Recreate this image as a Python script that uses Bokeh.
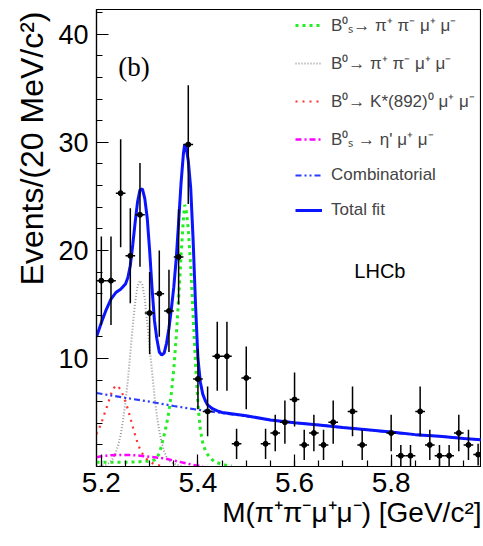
from bokeh.plotting import figure
from bokeh.models import Range1d, FixedTicker, Legend, LegendItem, Label, Title, ColumnDataSource
from bokeh.embed import file_html
from bokeh.resources import INLINE

# ---------------- data ----------------
bin_centers = [5.20, 5.22, 5.24, 5.26, 5.28, 5.30, 5.32, 5.34, 5.36, 5.38,
               5.40, 5.42, 5.44, 5.46, 5.48, 5.50, 5.52, 5.54, 5.56, 5.58,
               5.60, 5.62, 5.64, 5.66, 5.68, 5.70, 5.72, 5.74, 5.76, 5.78,
               5.80, 5.82, 5.84, 5.86, 5.88, 5.90, 5.92, 5.94, 5.96, 5.98]
counts = [17.2, 17.2, 25.3, 19.5, 23.3, 14.2, 16.0, 14.4, 19.4, 29.8,
          8.1, 5.1, 10.2, 10.2, 2.1, 8.2, 0, 2.1, 3.1, 4.1,
          6.2, 2.0, 3.1, 2.0, 4.1, 0, 5.1, 2.0, 0, 0,
          3.1, 1.0, 1.0, 5.1, 2.0, 1.0, 1.0, 3.1, 2.0, 1.1]
errors = [4.1, 4.1, 5.0, 4.4, 4.8, 3.8, 4.0, 3.8, 4.4, 5.5,
          2.8, 2.3, 3.2, 3.2, 1.4, 2.9, 0, 1.4, 1.7, 2.0,
          2.5, 1.4, 1.7, 1.4, 2.0, 0, 2.3, 1.4, 0, 0,
          1.7, 1.0, 1.0, 2.3, 1.4, 1.0, 1.0, 1.7, 1.4, 1.0]
bin_half_width = 0.01

green_x = [5.19, 5.20, 5.22, 5.24, 5.26, 5.28, 5.30, 5.31, 5.315, 5.32, 5.325, 5.33, 5.335, 5.34,
           5.345, 5.35, 5.355, 5.36, 5.365, 5.37, 5.3725, 5.375, 5.38, 5.385, 5.39, 5.395, 5.40,
           5.405, 5.41, 5.415, 5.42, 5.43, 5.44, 5.45, 5.46, 5.47]
green_y = [0.4, 0.4, 0.4, 0.4, 0.4, 0.45, 0.5, 0.6, 0.85, 1.2, 2.0, 2.9, 3.9, 5.1,
           6.8, 9.0, 12.0, 15.5, 19.5, 23.0, 24.2, 24.0, 22.0, 18.5, 14.0, 9.5, 5.8,
           3.4, 2.2, 1.5, 1.1, 0.6, 0.35, 0.2, 0.1, 0.05]

grey_x = [5.19, 5.20, 5.21, 5.215, 5.22, 5.225, 5.23, 5.235, 5.24, 5.245, 5.25, 5.255, 5.26,
          5.265, 5.27, 5.275, 5.28, 5.285, 5.29, 5.295, 5.30, 5.305, 5.31, 5.315, 5.32, 5.325,
          5.33, 5.335, 5.34, 5.35, 5.36, 5.37]
grey_y = [0.02, 0.05, 0.15, 0.3, 0.5, 0.8, 1.3, 2.0, 2.9, 4.3, 6.0, 8.0, 10.5,
          13.0, 15.2, 16.7, 17.2, 16.8, 15.5, 13.3, 11.0, 8.8, 6.5, 4.7, 3.3, 2.2,
          1.4, 0.9, 0.55, 0.25, 0.1, 0.03]

red_x = [5.19, 5.195, 5.20, 5.205, 5.21, 5.215, 5.22, 5.225, 5.23, 5.235, 5.24, 5.245, 5.25,
         5.255, 5.26, 5.265, 5.27, 5.275, 5.28, 5.285, 5.29, 5.30, 5.31, 5.32, 5.33]
red_y = [3.0, 3.5, 4.0, 4.7, 5.3, 6.0, 6.7, 7.2, 7.5, 7.4, 7.1, 6.6, 6.0,
         5.3, 4.5, 3.7, 2.9, 2.2, 1.6, 1.2, 0.85, 0.45, 0.2, 0.1, 0.04]

mag_x = [5.19, 5.20, 5.21, 5.22, 5.24, 5.26, 5.28, 5.30, 5.32, 5.33, 5.34, 5.35, 5.36, 5.37,
         5.38, 5.39, 5.40, 5.41]
mag_y = [0.85, 0.95, 1.0, 1.05, 1.07, 1.07, 1.0, 0.9, 0.8, 0.75, 0.65, 0.55, 0.45, 0.35,
         0.25, 0.15, 0.08, 0.03]

comb_x = [5.19, 5.25, 5.30, 5.35, 5.40, 5.45, 5.50, 5.55, 5.60, 5.65, 5.70, 5.75, 5.80,
          5.85, 5.90, 5.95, 5.99]
comb_y = [6.8, 6.35, 6.0, 5.6, 5.25, 4.95, 4.65, 4.3, 4.05, 3.85, 3.6, 3.4, 3.15,
          2.95, 2.8, 2.6, 2.45]

total_x = [5.19, 5.20, 5.21, 5.22, 5.23, 5.24, 5.25, 5.255, 5.26, 5.265, 5.27, 5.275, 5.28,
           5.285, 5.29, 5.295, 5.30, 5.305, 5.31, 5.315, 5.32, 5.325, 5.33, 5.335, 5.34,
           5.345, 5.35, 5.355, 5.36, 5.365, 5.37, 5.3725, 5.375, 5.38, 5.385, 5.39, 5.395,
           5.40, 5.405, 5.41, 5.415, 5.42, 5.43, 5.44, 5.45, 5.50, 5.55, 5.60, 5.65, 5.70,
           5.75, 5.80, 5.85, 5.90, 5.95, 5.99]
total_y = [12.0, 13.3, 14.5, 15.5, 16.1, 16.4, 16.9, 17.5, 18.6, 20.5, 22.6, 24.5, 25.6,
           25.7, 24.8, 23.0, 20.0, 16.5, 13.5, 11.8, 10.6, 10.3, 10.5, 11.4, 12.8,
           14.6, 16.6, 19.2, 22.6, 26.2, 29.0, 29.8, 29.7, 28.3, 25.8, 21.0, 15.0,
           10.0, 7.8, 6.7, 6.1, 5.7, 5.35, 5.15, 5.0, 4.7, 4.3, 4.05, 3.85, 3.6,
           3.4, 3.2, 2.95, 2.8, 2.6, 2.45]

legend_labels = ["B\u2070\u209b\u2192 \u03c0\u207a \u03c0\u207b \u03bc\u207a \u03bc\u207b",
                 "B\u2070\u2192 \u03c0\u207a \u03c0\u207b \u03bc\u207a \u03bc\u207b",
                 "B\u2070\u2192 K*(892)\u2070 \u03bc\u207a \u03bc\u207b",
                 "B\u2070\u209b \u2192 \u03b7' \u03bc\u207a \u03bc\u207b",
                 "Combinatorial",
                 "Total fit"]
x_title = "M(\u03c0\u207a\u03c0\u207b\u03bc\u207a\u03bc\u207b) [GeV/c\u00b2]"
y_title = "Events/(20 MeV/c\u00b2)"

x_ticks = [5.2, 5.4, 5.6, 5.8]
x_minor = [5.20, 5.25, 5.30, 5.35, 5.40, 5.45, 5.50, 5.55, 5.60, 5.65, 5.70, 5.75, 5.80, 5.85, 5.90, 5.95]
y_ticks = [10, 20, 30, 40]
y_minor = [0, 2, 4, 6, 8, 10, 12, 14, 16, 18, 20, 22, 24, 26, 28, 30, 32, 34, 36, 38, 40, 42]

FONT = "Liberation Sans"
X0, X1, Y0, Y1 = 5.19, 5.987, 0, 42.3

p = figure(width=481, height=544, x_range=Range1d(X0, X1), y_range=Range1d(Y0, Y1),
           output_backend="svg", toolbar_location=None,
           min_border_left=96, min_border_right=0, min_border_top=9, min_border_bottom=78)
p.grid.visible = False
p.outline_line_color = "black"
p.outline_line_width = 1.2
p.background_fill_color = "white"
p.border_fill_color = "white"

for ax in (p.xaxis[0], p.yaxis[0]):
    ax.major_tick_in = 12
    ax.major_tick_out = 0
    ax.minor_tick_in = 6
    ax.minor_tick_out = 0
    ax.axis_line_color = "black"
    ax.axis_line_width = 1.2
    ax.major_tick_line_width = 1.2
    ax.minor_tick_line_width = 1.2
    ax.major_label_text_font = FONT
    ax.major_label_text_color = "black"

p.xaxis.ticker = FixedTicker(ticks=x_ticks, minor_ticks=x_minor)
p.yaxis.ticker = FixedTicker(ticks=y_ticks, minor_ticks=y_minor)
p.xaxis.major_label_text_font_size = "28px"
p.yaxis.major_label_text_font_size = "27px"
p.xaxis.major_label_standoff = 6
p.yaxis.major_label_standoff = 8

r_green = p.line(green_x, green_y, line_color="#22ee22", line_width=3, line_dash="3 4")
r_grey = p.line(grey_x, grey_y, line_color="#9a9a9a", line_width=2, line_dash="1 2")
r_red = p.line(red_x, red_y, line_color="#ff3030", line_width=2.2, line_dash="2 5")
r_mag = p.line(mag_x, mag_y, line_color="#ff00ff", line_width=2.5, line_dash="6 3 2 3")
r_comb = p.line(comb_x, comb_y, line_color="#2a3cff", line_width=2.2, line_dash="6 3 2 3 2 3")
r_total = p.line(total_x, total_y, line_color="#0a14ff", line_width=3)

xs, ys, lo, hi, xl, xr = [], [], [], [], [], []
for xc, n, e in zip(bin_centers, counts, errors):
    if n <= 0:
        continue
    xs.append(xc); ys.append(n)
    lo.append(max(n - e, 0)); hi.append(n + e)
    xl.append(xc - bin_half_width); xr.append(xc + bin_half_width)
src = ColumnDataSource(dict(x=xs, y=ys, lo=lo, hi=hi, xl=xl, xr=xr))
p.segment(x0="x", y0="lo", x1="x", y1="hi", source=src, line_color="black", line_width=1.5)
p.segment(x0="xl", y0="y", x1="xr", y1="y", source=src, line_color="black", line_width=1.5)
p.scatter("x", "y", source=src, size=5, marker="circle", fill_color="black", line_color="black")

legend = Legend(items=[LegendItem(label=lab, renderers=[r]) for lab, r in
                       zip(legend_labels, [r_green, r_grey, r_red, r_mag, r_comb, r_total])],
                location=(199, 246), orientation="vertical",
                glyph_width=27, glyph_height=20, label_height=20, spacing=15,
                padding=0, margin=0, label_standoff=9,
                label_text_font=FONT, label_text_font_size="17px",
                background_fill_alpha=0, border_line_color=None)
p.add_layout(legend)

p.add_layout(Label(x=5.2677, y=37.0, text="(b)", text_font="Liberation Serif",
                   text_font_size="27px", text_align="center", text_baseline="middle",
                   text_color="black"))
p.add_layout(Label(x=5.7767, y=18.1, text="LHCb", text_font=FONT,
                   text_font_size="20px", text_align="center", text_baseline="middle",
                   text_color="black"))

# axis titles (ROOT style: aligned to the high end of each axis)
p.add_layout(Title(text=x_title, align="right", text_font=FONT, text_font_size="28px",
                   text_font_style="normal", text_color="black", standoff=0), "below")
p.add_layout(Title(text=y_title, align="right", text_font=FONT, text_font_size="32px",
                   text_font_style="normal", text_color="black", standoff=12, offset=2), "left")

open("out.html", "w").write(file_html(p, INLINE))
